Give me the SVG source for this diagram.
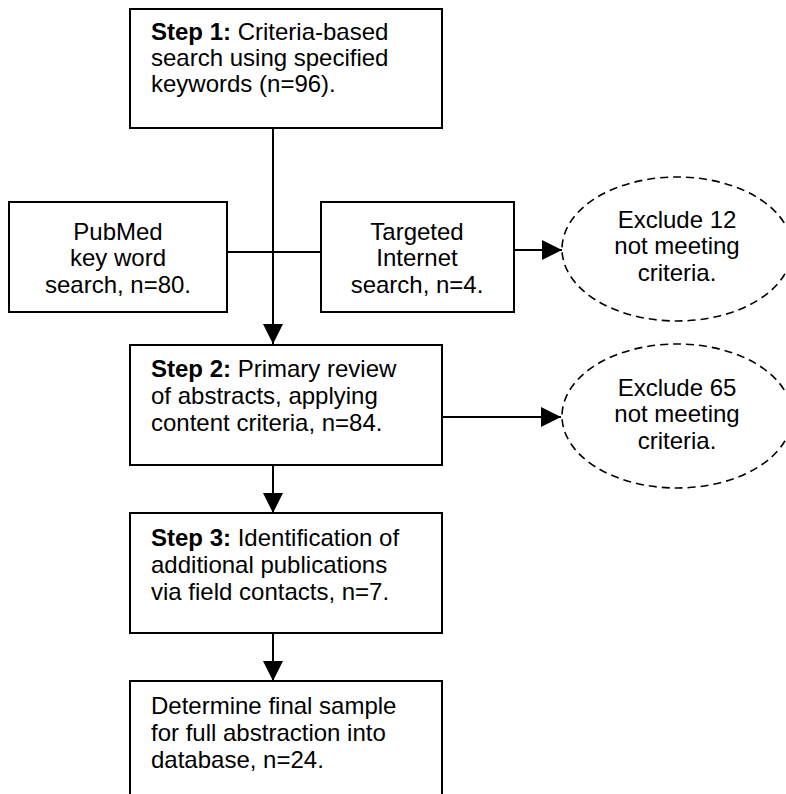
<svg xmlns="http://www.w3.org/2000/svg" width="786" height="794" viewBox="0 0 786 794">
<style>
  .box { fill: #ffffff; stroke: #000000; stroke-width: 2; }
  .ell { fill: #ffffff; stroke: #000000; stroke-width: 1.6; stroke-dasharray: 8 5; }
  .t { font-family: "Liberation Sans", Arial, sans-serif; font-size: 24px; fill: #000000; }
  .c { text-anchor: middle; }
  .b { font-weight: bold; }
  .line { stroke: #000000; stroke-width: 2; fill: none; }
</style>
<defs>
  <marker id="arrow" viewBox="0 0 20 20" refX="20" refY="10" markerWidth="20" markerHeight="20" markerUnits="userSpaceOnUse" orient="auto">
    <path d="M0,0 L20,10 L0,20 Z" fill="#000000"/>
  </marker>
</defs>
<rect width="786" height="794" fill="#ffffff"/>

<g id="connectors">
  <line class="line" x1="273" y1="128" x2="273" y2="344" marker-end="url(#arrow)"/>
  <line class="line" x1="227" y1="252" x2="321" y2="252"/>
  <line class="line" x1="514" y1="250" x2="562" y2="250" marker-end="url(#arrow)"/>
  <line class="line" x1="442" y1="417" x2="561" y2="417" marker-end="url(#arrow)"/>
  <line class="line" x1="273" y1="465" x2="273" y2="513" marker-end="url(#arrow)"/>
  <line class="line" x1="273" y1="633" x2="273" y2="681" marker-end="url(#arrow)"/>
</g>

<g id="step1">
  <rect class="box" x="130" y="9" width="312" height="119"/>
  <text class="t" x="151" y="40"><tspan class="b">Step 1:</tspan> Criteria-based</text>
  <text class="t" x="151" y="66">search using specified</text>
  <text class="t" x="151" y="92">keywords (n=96).</text>
</g>

<g id="pubmed">
  <rect class="box" x="9" y="202" width="218" height="110"/>
  <text class="t c" x="118" y="240">PubMed</text>
  <text class="t c" x="118" y="266">key word</text>
  <text class="t c" x="118" y="293">search, n=80.</text>
</g>

<g id="targeted">
  <rect class="box" x="321" y="202" width="193" height="110"/>
  <text class="t c" x="417" y="240">Targeted</text>
  <text class="t c" x="417" y="266">Internet</text>
  <text class="t c" x="417" y="293">search, n=4.</text>
</g>

<g id="exclude12">
  <ellipse class="ell" cx="677" cy="249" rx="115" ry="72"/>
  <text class="t c" x="677" y="228">Exclude 12</text>
  <text class="t c" x="677" y="254">not meeting</text>
  <text class="t c" x="677" y="281">criteria.</text>
</g>

<g id="step2">
  <rect class="box" x="130" y="345" width="312" height="120"/>
  <text class="t" x="151" y="377"><tspan class="b">Step 2:</tspan> Primary review</text>
  <text class="t" x="151" y="404">of abstracts, applying</text>
  <text class="t" x="151" y="431">content criteria, n=84.</text>
</g>

<g id="exclude65">
  <ellipse class="ell" cx="677" cy="416" rx="115" ry="72"/>
  <text class="t c" x="677" y="396">Exclude 65</text>
  <text class="t c" x="677" y="422">not meeting</text>
  <text class="t c" x="677" y="449">criteria.</text>
</g>

<g id="step3">
  <rect class="box" x="130" y="513" width="312" height="120"/>
  <text class="t" x="151" y="546"><tspan class="b">Step 3:</tspan> Identification of</text>
  <text class="t" x="151" y="573">additional publications</text>
  <text class="t" x="151" y="600">via field contacts, n=7.</text>
</g>

<g id="final">
  <rect class="box" x="130" y="681" width="312" height="130"/>
  <text class="t" x="151" y="714">Determine final sample</text>
  <text class="t" x="151" y="741">for full abstraction into</text>
  <text class="t" x="151" y="768">database, n=24.</text>
</g>
</svg>
